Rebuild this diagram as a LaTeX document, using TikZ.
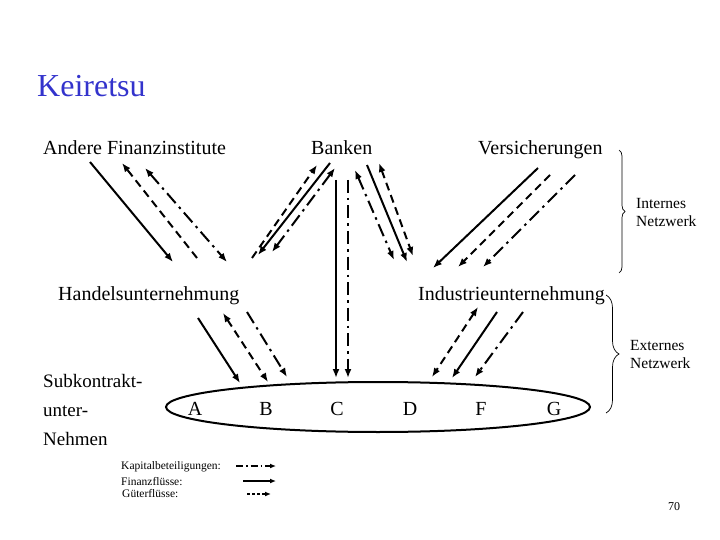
\documentclass[tikz,border=0pt]{standalone}
\usepackage{fontspec}
\setmainfont{Liberation Serif}
\usetikzlibrary{arrows.meta,decorations.pathreplacing,shapes.geometric}
\definecolor{titleblue}{RGB}{51,51,204}
\begin{document}
\begin{tikzpicture}[x=1pt,y=-1pt,
  tip/.tip={Latex[length=9pt,width=7pt]},
  fl/.style={line width=2pt,-tip},
  fl2/.style={line width=2pt,tip-tip},
  goods/.style={dash pattern=on 8pt off 5pt},
  kapital/.style={dash pattern=on 13pt off 5pt on 2.5pt off 5pt},
  lbl/.style={inner sep=0pt,font=\fontsize{20}{24}\selectfont},
  sm/.style={inner sep=0pt,font=\fontsize{15.5}{18}\selectfont,anchor=base west},
  leg/.style={inner sep=0pt,font=\fontsize{11.5}{14}\selectfont,anchor=base west},
  br/.style={line width=0.7pt,decorate},
]
\useasboundingbox (0,0) rectangle (720,540);

% title
\node[inner sep=0pt,anchor=base west,text=titleblue,font=\fontsize{32}{36}\selectfont] (title) at (37,97) {Keiretsu};

% main labels
\node[lbl,anchor=base west] (afi) at (43,155) {Andere Finanzinstitute};
\node[lbl,anchor=base west] (bank) at (311,155) {Banken};
\node[lbl,anchor=base west] (vers) at (478,155) {Versicherungen};
\node[lbl,anchor=base west] (hand) at (58,300) {Handelsunternehmung};
\node[lbl,anchor=base west] (ind) at (418,300) {Industrieunternehmung};
\node[lbl,anchor=base west,font=\fontsize{19}{22}\selectfont] (sub1) at (43,387) {Subkontrakt-};
\node[lbl,anchor=base west,font=\fontsize{19}{22}\selectfont] (sub2) at (43,416) {unter-};
\node[lbl,anchor=base west,font=\fontsize{19}{22}\selectfont] (sub3) at (43,445) {Nehmen};

% subcontractor ellipse
\node[draw,ellipse,line width=2pt,minimum width=424pt,minimum height=50pt,inner sep=0pt] (ell) at (378,407) {};
\node[lbl,anchor=base] (lA) at (195,415) {A};
\node[lbl,anchor=base] (lB) at (266,415) {B};
\node[lbl,anchor=base] (lC) at (337,415) {C};
\node[lbl,anchor=base] (lD) at (410,415) {D};
\node[lbl,anchor=base] (lF) at (481,415) {F};
\node[lbl,anchor=base] (lG) at (554,415) {G};

% Andere Finanzinstitute <-> Handelsunternehmung
\coordinate (a1) at (90,162);  \coordinate (a1e) at (173,262);
\coordinate (a2) at (122,163); \coordinate (a2e) at (197,258);
\coordinate (a3) at (145,168); \coordinate (a3e) at (227,262);
\draw[fl] (a1) -- (a1e);
\draw[fl,goods] (a2e) -- (a2);
\draw[fl2,kapital] (a3) -- (a3e);

% Banken <-> Handelsunternehmung
\coordinate (b1) at (317,165); \coordinate (b1e) at (252,258);
\coordinate (b2) at (330,163); \coordinate (b2e) at (258,255);
\coordinate (b3) at (335,168); \coordinate (b3e) at (272,252);
\draw[fl,goods] (b1e) -- (b1);
\draw[fl] (b2) -- (b2e);
\draw[fl2,kapital] (b3) -- (b3e);

% Banken -> Subkontraktunternehmen (C)
\coordinate (c1) at (336,180); \coordinate (c1e) at (336,378);
\coordinate (c2) at (348,180); \coordinate (c2e) at (348,378);
\draw[fl] (c1) -- (c1e);
\draw[fl,kapital] (c2) -- (c2e);

% Banken <-> Industrieunternehmung
\coordinate (d1) at (355,170); \coordinate (d1e) at (394,260);
\coordinate (d2) at (367,165); \coordinate (d2e) at (407,262);
\coordinate (d3) at (379,163); \coordinate (d3e) at (413,256);
\draw[fl2,kapital] (d1) -- (d1e);
\draw[fl] (d2) -- (d2e);
\draw[fl2,goods] (d3) -- (d3e);

% Versicherungen -> Industrieunternehmung
\coordinate (v1) at (538,168); \coordinate (v1e) at (433,268);
\coordinate (v2) at (550,175); \coordinate (v2e) at (458,267);
\coordinate (v3) at (575,175); \coordinate (v3e) at (483,267);
\draw[fl] (v1) -- (v1e);
\draw[fl,goods] (v2) -- (v2e);
\draw[fl,kapital] (v3) -- (v3e);

% Handelsunternehmung -> Subkontrakt
\coordinate (h1) at (198,318); \coordinate (h1e) at (240,383);
\coordinate (h2) at (223,313); \coordinate (h2e) at (268,382);
\coordinate (h3) at (247,312); \coordinate (h3e) at (287,377);
\draw[fl] (h1) -- (h1e);
\draw[fl2,goods] (h2) -- (h2e);
\draw[fl,kapital] (h3) -- (h3e);

% Industrieunternehmung -> Subkontrakt
\coordinate (i1) at (478,307); \coordinate (i1e) at (432,377);
\coordinate (i2) at (497,312); \coordinate (i2e) at (452,378);
\coordinate (i3) at (523,312); \coordinate (i3e) at (475,377);
\draw[fl2,goods] (i1) -- (i1e);
\draw[fl] (i2) -- (i2e);
\draw[fl,kapital] (i3) -- (i3e);

% braces
\coordinate (br1t) at (619,150); \coordinate (br1b) at (619,273);
\draw[br,decoration={brace,amplitude=6pt}] (br1t) -- (br1b);
\node[sm] (int1) at (636,208) {Internes};
\node[sm] (int2) at (636,226) {Netzwerk};
\coordinate (br2t) at (606,295); \coordinate (br2b) at (606,413);
\draw[br,decoration={brace,amplitude=13pt}] (br2t) -- (br2b);
\node[sm] (ext1) at (630,350) {Externes};
\node[sm] (ext2) at (630,368) {Netzwerk};

% legend
\node[leg] (k) at (121,469) {Kapitalbeteiligungen:};
\node[leg] (f) at (121,485) {Finanzflüsse:};
\node[leg] (g) at (122,497) {Güterflüsse:};
\coordinate (lk) at (236,466); \coordinate (lke) at (276,466);
\coordinate (lf) at (243,481); \coordinate (lfe) at (276,481);
\coordinate (lg) at (247,494); \coordinate (lge) at (271,494);
\draw[line width=1.8pt,-{Latex[length=6pt,width=5pt]},dash pattern=on 7pt off 3pt on 1.5pt off 3pt] (lk) -- (lke);
\draw[line width=1.8pt,-{Latex[length=6pt,width=5pt]}] (lf) -- (lfe);
\draw[line width=1.8pt,-{Latex[length=6pt,width=5pt]},dash pattern=on 3pt off 2pt] (lg) -- (lge);

% page number
\node[inner sep=0pt,anchor=base west,font=\fontsize{12}{14}\selectfont] (pg) at (668,510) {70};
\end{tikzpicture}
\end{document}
